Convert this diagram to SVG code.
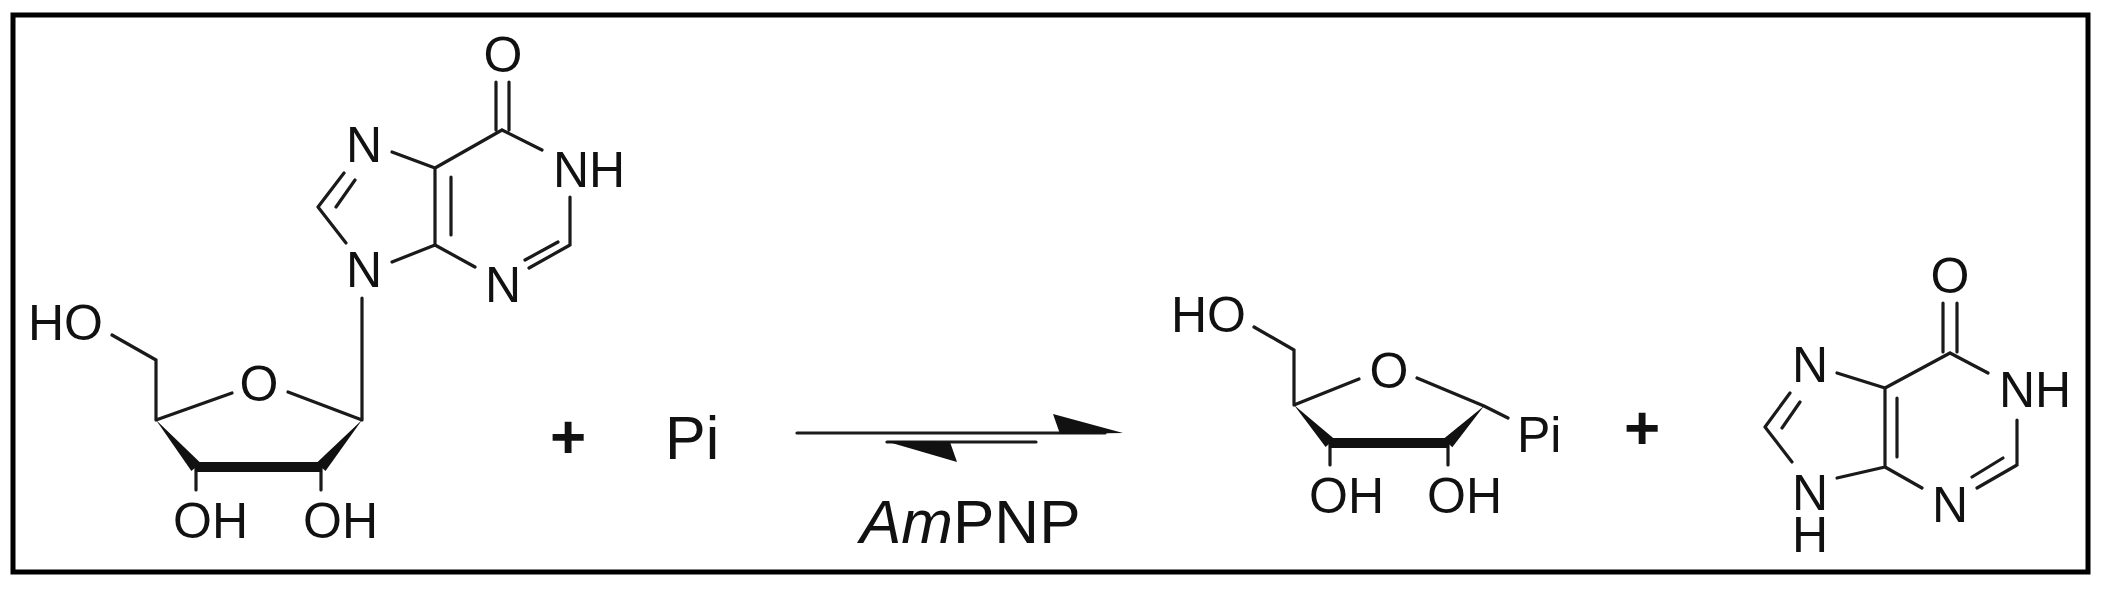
<svg xmlns="http://www.w3.org/2000/svg" width="2102" height="591" viewBox="0 0 2102 591">
<style>
.b{stroke:#1a1a1a;stroke-width:3.2;fill:none;stroke-linecap:round}
.w{fill:#111}
text{font-family:"Liberation Sans",Arial,sans-serif;font-size:50px;fill:#111}
.m{text-anchor:middle}
</style>
<rect width="2102" height="591" fill="#fff"/>
<rect x="13" y="15" width="2075" height="557" fill="none" stroke="#000" stroke-width="5"/>
<g id="inosine">
<path class="b" d="M496 82V130M509 82V130M502 130L435 168M435 168V245M451 177V235M435 168L392 152M344 173L318 207M355 180L336 207M318 207L346 243M392 262L435 245M435 245L475 267M529 268L570 245M525 260L558 242M570 245V197M502 130L542 150M362 298V420M362 420L288 392M156 420L232 393M156 420V360M156 360L112 335M196 467V490M321 467V490"/>
<polygon class="w" points="156,420 200.6,463.1 191.4,470.9"/>
<rect class="w" x="195" y="462" width="127" height="10"/>
<polygon class="w" points="362,420 325.5,470.9 316.5,463.1"/>
<text class="m" x="503" y="72">O</text>
<text class="m" x="364" y="162">N</text>
<text class="m" x="364" y="287">N</text>
<text class="m" x="503" y="302">N</text>
<text x="553" y="187">NH</text>
<text x="28" y="340">HO</text>
<text class="m" x="259" y="401">O</text>
<text x="173" y="538">OH</text>
<text x="303" y="538">OH</text>
</g>
<g id="plus1"><text class="m" x="568" y="458" style="font-size:62px;font-weight:bold">+</text></g>
<g id="pi"><text x="665" y="459" style="font-size:61px">Pi</text></g>
<g id="connectors">
<path class="b" d="M797 433H1105M887 442H1036"/>
<polygon class="w" points="1053,414 1123,433 1060,434"/>
<polygon class="w" points="885,441 957,462 950,442"/>
</g>
<g id="enzyme"><text x="860" y="543" style="font-size:62px"><tspan font-style="italic">Am</tspan>PNP</text></g>
<g id="ribose1phosphate">
<path class="b" d="M1254 327L1294 350M1294 350V405M1294 405L1359 379M1417 378L1484 406M1484 406L1508 418M1330 443V465M1448 443V465"/>
<polygon class="w" points="1294,405 1334.4,438.9 1325.6,447.1"/>
<rect class="w" x="1329" y="438" width="120" height="10"/>
<polygon class="w" points="1484,406 1452.3,447.2 1443.7,438.8"/>
<text x="1171" y="332">HO</text>
<text class="m" x="1389" y="388">O</text>
<text x="1517" y="452">Pi</text>
<text x="1309" y="513">OH</text>
<text x="1427" y="513">OH</text>
</g>
<g id="plus2"><text class="m" x="1642" y="449" style="font-size:62px;font-weight:bold">+</text></g>
<g id="hypoxanthine">
<path class="b" d="M1943 303V352M1957 303V352M1950 353L1885 388M1950 353L1988 373M2017 420V465M2017 465L1977 488M2003 458L1972 477M1922 488L1885 467M1885 388V467M1897 398V457M1885 388L1837 373M1790 393L1765 427M1800 402L1782 428M1765 427L1792 462M1837 478L1885 467"/>
<text class="m" x="1950" y="293">O</text>
<text x="1999" y="407">NH</text>
<text class="m" x="1950" y="522">N</text>
<text class="m" x="1810" y="382">N</text>
<text class="m" x="1810" y="510">N</text>
<text class="m" x="1810" y="552">H</text>
</g>
</svg>
